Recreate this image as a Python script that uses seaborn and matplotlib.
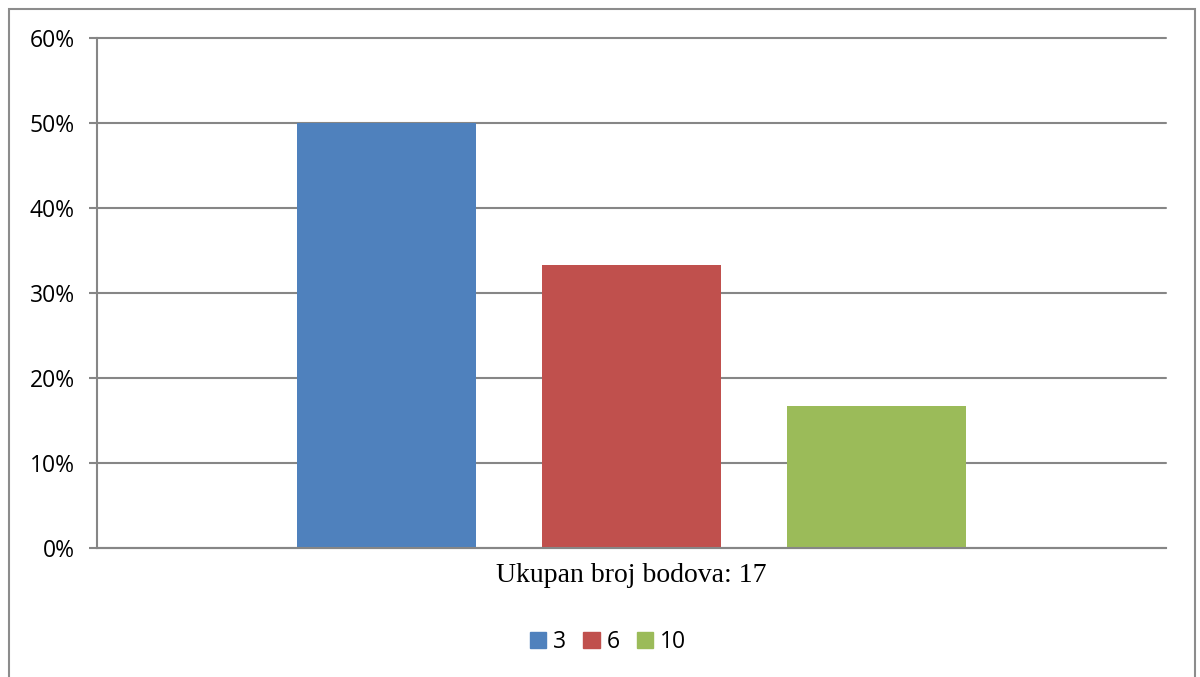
import matplotlib
matplotlib.use("Agg")
import matplotlib.pyplot as plt
import matplotlib.patches as mpatches
import numpy as np
import pandas as pd
import seaborn as sns

# Chart data
category = "Ukupan broj bodova: 17"
points = ["3", "6", "10"]
shares = [50.0, 33.33, 16.67]
colors = ["#4F81BD", "#C0504D", "#9BBB59"]
y_ticks = [0, 10, 20, 30, 40, 50, 60]
y_tick_labels = [f"{t}%" for t in y_ticks]

df = pd.DataFrame({"category": [category] * len(points), "points": points, "share": shares})

sns.set_theme(style="white")
plt.rcParams["font.family"] = ["Open Sans", "DejaVu Sans"]
plt.rcParams["text.color"] = "black"

grid_color = "#868686"

fig = plt.figure(figsize=(12, 6.77), dpi=100)
ax = fig.add_axes([97 / 1200, 1 - 548 / 677, (1166 - 97) / 1200, (548 - 38) / 677])

sns.barplot(
    data=df,
    x="category",
    y="share",
    hue="points",
    hue_order=points,
    palette=colors,
    width=0.6876,
    gap=0.27,
    saturation=1,
    linewidth=0,
    ax=ax,
    legend=False,
)

ax.set_xlim(-0.5, 0.5)
ax.set_ylim(0, 60)
ax.set_yticks(y_ticks, y_tick_labels)
ax.yaxis.grid(True, color=grid_color, linewidth=1.5)
for gl in ax.get_ygridlines():
    gl.set_clip_on(False)
ax.set_axisbelow(True)
ax.set_xlabel("")
ax.set_ylabel("")

for side in ["top", "right"]:
    ax.spines[side].set_visible(False)
for side in ["left", "bottom"]:
    ax.spines[side].set_color(grid_color)
    ax.spines[side].set_linewidth(1.5)

ax.tick_params(axis="y", which="major", left=True, length=6, width=1.5,
               color=grid_color, labelsize=16.5, labelcolor="black", pad=10)
ax.tick_params(axis="x", bottom=False, labelsize=20, labelcolor="black", pad=5)
for lbl in ax.get_xticklabels():
    lbl.set_fontfamily(["Liberation Serif", "DejaVu Serif"])

# Legend at the bottom
handles = [mpatches.Patch(color=c, label=p) for p, c in zip(points, colors)]
fig.legend(
    handles=handles,
    loc="center",
    bbox_to_anchor=(608 / 1200, 1 - 642 / 677),
    ncol=3,
    frameon=False,
    fontsize=16.5,
    labelcolor="black",
    handlelength=0.7,
    handleheight=0.7,
    handletextpad=0.3,
    columnspacing=0.75,
)

# Outer chart border
border = mpatches.Rectangle(
    (9 / 1200, -0.05), (1195 - 9) / 1200, 1.05 - 9 / 677,
    transform=fig.transFigure, fill=False, edgecolor="#8C8C8C",
    linewidth=1.5, clip_on=False,
)
fig.patches.append(border)

fig.savefig("out.png", dpi=100)
